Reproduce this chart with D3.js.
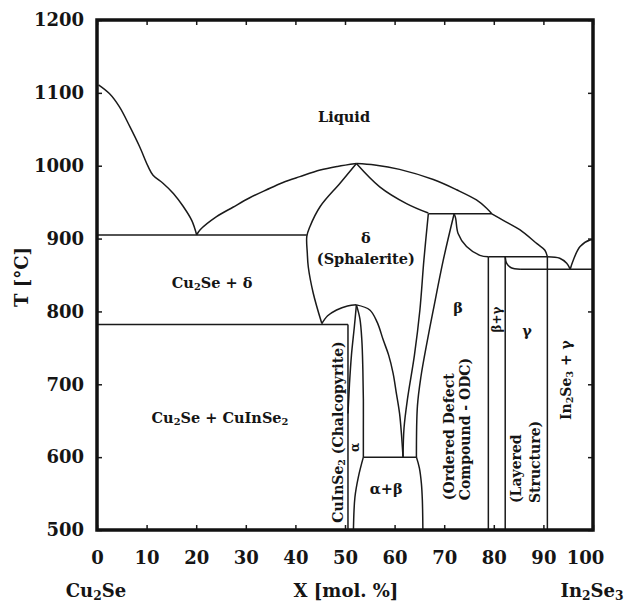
<!DOCTYPE html>
<html>
<head>
<meta charset="utf-8">
<script src="https://cdn.jsdelivr.net/npm/d3@7"></script>
<style>
  html, body { margin: 0; padding: 0; background: #fff; }
  svg { display: block; }
  text { font-family: "DejaVu Serif", "Liberation Serif", serif; font-weight: bold; fill: #151515; }
</style>
</head>
<body>
<div id="chart"></div>
<script>
// Cu2Se – In2Se3 pseudo-binary phase diagram (composition in mol.% In2Se3, temperature in °C)

const xTicks = [0, 10, 20, 30, 40, 50, 60, 70, 80, 90, 100];
const tTicks = [500, 600, 700, 800, 900, 1000, 1100, 1200];

// liquidus, split at the invariant points
const liquidusCu2Se = [[0.3,1111],[2.5,1099],[4.5,1081],[6.6,1054],[8.6,1026],[10.3,999],[11.3,987],[13.3,976],[15.4,962],[17.4,944],[19.1,925],[20.1,905]];
const liquidusDelta = [[20.1,905],[20.8,912],[24.1,930],[27.4,943],[30.8,956],[34.2,967],[37.5,977],[40.9,985],[45,994],[48.5,999],[52.3,1003]];
const liquidusBeta = [[52.3,1003],[56,1001],[61,995],[67.8,981],[72.5,967],[76.5,953],[78.5,942],[79.6,934]];
const liquidusGamma = [[79.6,934],[81.9,925],[85.3,912],[88.7,893],[90.3,884],[90.8,875]];
const liquidusEutectic = [[90.8,875],[93.3,873],[94.7,866],[95.4,858]];
const liquidusIn2Se3 = [[95.4,858],[96,870],[97.4,889],[99.4,898],[100,898]];

// delta (sphalerite) field
const deltaLeft = [[52.3,1003],[49,976],[45,944],[42.9,916],[42.3,903],[42.4,880],[42.6,861],[43.6,825],[45.3,784]];
const deltaSolidus = [[52.3,1003],[57,971],[62.4,948],[66.8,935]];
const deltaRight = [[66.8,934],[65.9,870],[65.1,802],[64,740],[62.6,680],[61.9,640],[61.7,600]];
const deltaAlphaLeft = [[45.3,783],[46.5,794],[48.3,802],[50.5,807.5],[52.3,809]];
const deltaAlphaRight = [[52.3,809],[55,802],[56.5,785],[57.7,761],[58.8,740],[59.7,715],[60.3,690],[61,660],[61.4,630],[61.7,600]];

// alpha (chalcopyrite) field
const alphaLeft = [[52.3,809],[51.9,780],[51.3,740],[50.9,700],[50.6,660]];
const alphaRight = [[52.3,809],[53,790],[53.4,760],[53.6,720],[53.7,680],[53.7,640],[53.7,600]];
const alphaBetaLeft = [[53.7,600],[52.7,573],[52,545],[51.7,500]];
const alphaBetaRight = [[64.4,600],[65,585],[65.4,564],[65.6,540],[65.7,500]];

// beta (ODC) and gamma fields
const betaLeft = [[72,934],[69.8,870],[67.8,802],[66.6,760],[65.3,710],[64.6,670],[64.4,600]];
const betaRight = [[72,934],[72.3,928],[72.8,907],[74.5,889],[77.2,877],[78.9,875]];
const gammaTop = [[82.3,875],[82.6,866],[83.5,860],[85.3,858]];

// invariant isotherms: [temperature, from x, to x]
const isotherms = [[905,0,42.3],[782,0,50.6],[934,66.8,79.6],[875,78.9,90.8],[858,85.3,100],[600,53.7,64.4]];
// vertical phase boundaries: [x, upper T, lower T]
const verticals = [[50.6,782,500],[78.9,875,500],[82.3,875,500],[90.8,875,500]];

const curves = [liquidusCu2Se, liquidusDelta, liquidusBeta, liquidusGamma, liquidusEutectic, liquidusIn2Se3,
  deltaLeft, deltaSolidus, deltaRight, deltaAlphaLeft, deltaAlphaRight,
  alphaLeft, alphaRight, alphaBetaLeft, alphaBetaRight, betaLeft, betaRight, gammaTop];

// phase-field labels: text parts ([string, isSubscript]), x, T
const phaseLabels = [
  {parts: [["Liquid"]], x: 49.8, T: 1067},
  {parts: [["δ"]], x: 54.2, T: 901},
  {parts: [["(Sphalerite)"]], x: 54.2, T: 872},
  {parts: [["Cu"],["2",1],["Se + δ"]], x: 23.2, T: 839},
  {parts: [["Cu"],["2",1],["Se + CuInSe"],["2",1]], x: 24.8, T: 654},
  {parts: [["α+β"]], x: 58.3, T: 557},
  {parts: [["β"]], x: 72.8, T: 805},
  {parts: [["γ"]], x: 86.7, T: 773}
];
const rotatedLabels = [
  {parts: [["CuInSe"],["2",1],[" (Chalcopyrite)"]], x: 48.7, T: 510, size: 14},
  {parts: [["α"]], x: 52.0, T: 607, size: 12},
  {parts: [["(Ordered Defect"]], x: 71.0, T: 541, size: 14},
  {parts: [["Compound - ODC)"]], x: 74.3, T: 541, size: 14},
  {parts: [["(Layered"]], x: 84.5, T: 537, size: 14},
  {parts: [["Structure)"]], x: 88.3, T: 537, size: 14},
  {parts: [["In"],["2",1],["Se"],["3",1],[" + γ"]], x: 94.6, T: 651, size: 14},
  {parts: [["β+γ"]], x: 80.6, T: 771, size: 12}
];

const W = 630, H = 603;
const svg = d3.select("#chart").append("svg").attr("width", W).attr("height", H);

const x = d3.scaleLinear().domain([0, 100]).range([97, 593]);
const y = d3.scaleLinear().domain([500, 1200]).range([530, 20]);

const line = d3.line().x(d => x(d[0])).y(d => y(d[1])).curve(d3.curveCatmullRom.alpha(0.5));
const plot = svg.append("g").attr("fill", "none").attr("stroke", "#1a1a1a").attr("stroke-width", 1.5);

plot.selectAll("path.boundary").data(curves).join("path").attr("class", "boundary").attr("d", line);
plot.selectAll("line.iso").data(isotherms).join("line").attr("class", "iso")
  .attr("x1", d => x(d[1])).attr("x2", d => x(d[2])).attr("y1", d => y(d[0])).attr("y2", d => y(d[0]));
plot.selectAll("line.vert").data(verticals).join("line").attr("class", "vert")
  .attr("x1", d => x(d[0])).attr("x2", d => x(d[0])).attr("y1", d => y(d[1])).attr("y2", d => y(d[2]));

// writes chemical formulas with lowered subscripts into a text element
function writeParts(sel, parts, size) {
  parts.forEach(p => {
    const t = sel.append("tspan").text(p[0]);
    if (p[1]) t.attr("font-size", size * 0.68).attr("baseline-shift", "-22%");
  });
}

phaseLabels.forEach(l => {
  const t = svg.append("text").attr("x", x(l.x)).attr("y", y(l.T)).attr("dy", "0.35em")
    .attr("text-anchor", "middle").attr("font-size", 14.5);
  writeParts(t, l.parts, 14.5);
});
rotatedLabels.forEach(l => {
  const t = svg.append("text").attr("transform", `translate(${x(l.x)},${y(l.T)}) rotate(-90)`)
    .attr("dy", "0.35em").attr("text-anchor", "start").attr("font-size", l.size);
  writeParts(t, l.parts, l.size);
});

// axes: inward ticks on all four sides
const axisStyle = g => {
  g.select(".domain").remove();
  g.selectAll(".tick line").attr("stroke", "#1a1a1a").attr("stroke-width", 1.5);
  g.selectAll(".tick text").attr("font-size", 18).attr("fill", "#151515")
    .attr("font-family", "DejaVu Serif").attr("font-weight", "bold");
};
svg.append("g").attr("transform", "translate(0,530)")
  .call(d3.axisBottom(x).tickValues(xTicks).tickSize(-5).tickPadding(21).tickFormat(d3.format("d"))).call(axisStyle)
  .call(g => g.selectAll(".tick text").filter(d => d === 100).attr("dx", -8));
svg.append("g").attr("transform", "translate(0,20)")
  .call(d3.axisTop(x).tickValues(xTicks).tickSize(-5).tickFormat("")).call(axisStyle);
svg.append("g").attr("transform", "translate(97,0)")
  .call(d3.axisLeft(y).tickValues(tTicks).tickSize(-5).tickPadding(13).tickFormat(d3.format("d"))).call(axisStyle);
svg.append("g").attr("transform", "translate(593,0)")
  .call(d3.axisRight(y).tickValues(tTicks).tickSize(-5).tickFormat("")).call(axisStyle);

// heavy frame
svg.append("rect").attr("x", x(0)).attr("y", y(1200)).attr("width", x(100) - x(0)).attr("height", y(500) - y(1200))
  .attr("fill", "none").attr("stroke", "#111").attr("stroke-width", 3.5);

// axis titles and end-member names
svg.append("text").attr("transform", "translate(22,277) rotate(-90)").attr("text-anchor", "middle")
  .attr("dy", "0.35em").attr("font-size", 18).text("T [°C]");
svg.append("text").attr("x", 346).attr("y", 597).attr("text-anchor", "middle").attr("font-size", 18).text("X [mol. %]");
const left = svg.append("text").attr("x", 96).attr("y", 597).attr("text-anchor", "middle").attr("font-size", 18);
writeParts(left, [["Cu"],["2",1],["Se"]], 18);
const right = svg.append("text").attr("x", 592).attr("y", 597).attr("text-anchor", "middle").attr("font-size", 18);
writeParts(right, [["In"],["2",1],["Se"],["3",1]], 18);
</script>
</body>
</html>
